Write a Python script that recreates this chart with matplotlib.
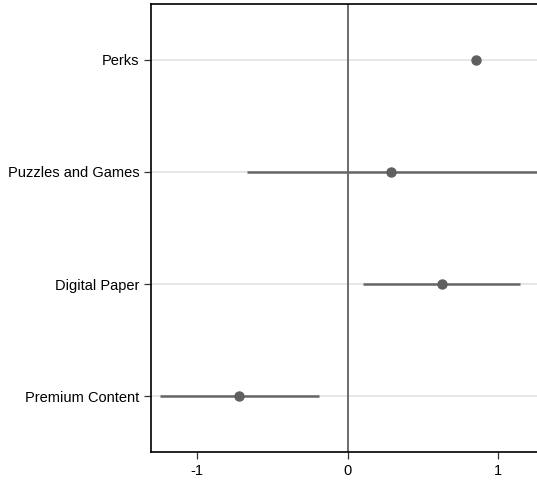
import numpy as np
import matplotlib.pyplot as plt

plt.rcParams['font.family'] = ['Liberation Sans', 'DejaVu Sans']

labels = ["Premium Content", "Digital Paper", "Puzzles and Games", "Perks"]
est = [-0.723, 0.625, 0.291, 0.854]
lo = [-1.245, 0.10, -0.67, np.nan]
hi = [-0.19, 1.15, 1.40, np.nan]

fig = plt.figure(figsize=(5.37, 4.8), dpi=100)
ax = fig.add_axes([0.2812, 0.0583, 0.7188, 0.9334])

pos = np.arange(1, len(labels) + 1)
for p in pos:
    ax.axhline(p, color='#e3e3e3', lw=1.2, zorder=0)
ax.axvline(0, color='#5f5f5f', lw=1.3, zorder=1)

for p, l, h in zip(pos, lo, hi):
    if not np.isnan(l):
        ax.plot([l, h], [p, p], color='#666666', lw=1.8, zorder=2, solid_capstyle='butt')
ax.plot(est, pos, 'o', color='#5f5f5f', ms=6.5, zorder=3)

ax.set_xlim(-1.308, 1.26)
ax.set_ylim(0.5, 4.5)
ax.set_xticks([-1, 0, 1])
ax.set_xticklabels(['-1', '0', '1'])
ax.set_yticks(pos)
ax.set_yticklabels(labels)
ax.tick_params(labelsize=10.5, length=5, width=0.9, color='#333333')
ax.spines['right'].set_visible(False)
for s in ['left', 'bottom', 'top']:
    ax.spines[s].set_linewidth(1.2)

fig.savefig('out.png', dpi=100)
